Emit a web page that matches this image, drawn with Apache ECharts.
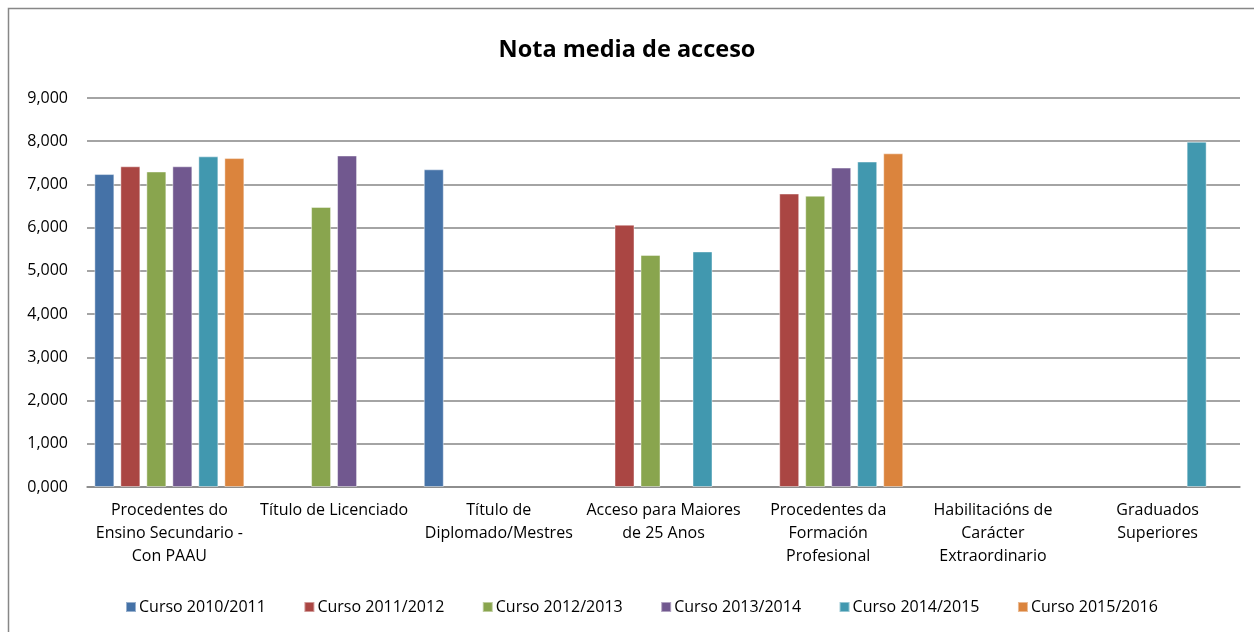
<!DOCTYPE html>
<html>
<head>
<meta charset="utf-8">
<script src="https://cdn.jsdelivr.net/npm/echarts@6/dist/echarts.min.js"></script>
<style>
  html, body { margin: 0; padding: 0; background: #fff; }
  #main { width: 1254px; height: 632px; }
</style>
</head>
<body>
<div id="main"></div>
<script>
var categories = [
  "Procedentes do\nEnsino Secundario -\nCon PAAU",
  "Título de Licenciado",
  "Título de\nDiplomado/Mestres",
  "Acceso para Maiores\nde 25 Anos",
  "Procedentes da\nFormación\nProfesional",
  "Habilitacións de\nCarácter\nExtraordinario",
  "Graduados\nSuperiores"
];
var seriesNames = [
  "Curso 2010/2011", "Curso 2011/2012", "Curso 2012/2013",
  "Curso 2013/2014", "Curso 2014/2015", "Curso 2015/2016"
];
var curso2010 = [7.24, null, 7.35, null, null, null, null];
var curso2011 = [7.42, null, null, 6.07, 6.79, null, null];
var curso2012 = [7.30, 6.48, null, 5.37, 6.74, null, null];
var curso2013 = [7.42, 7.67, null, null, 7.39, null, null];
var curso2014 = [7.65, null, null, 5.45, 7.53, null, 7.99];
var curso2015 = [7.61, null, null, null, 7.72, null, null];
var colors = ["#4572A7", "#AA4643", "#89A54E", "#71588F", "#4198AF", "#DB843D"];

var allValues = [curso2010, curso2011, curso2012, curso2013, curso2014, curso2015];
var font = "'Open Sans', Lato, sans-serif";

let chartMain = echarts.init(document.getElementById("main"));
let series = seriesNames.map(function (name, i) {
  return {
    name: name,
    type: "bar",
    data: allValues[i],
    barWidth: 20,
    barGap: "30%",
    itemStyle: {
      color: colors[i],
      borderColor: "rgba(255,255,255,0.45)",
      borderWidth: 1,
    },
  };
});

let option = {
  animation: false,
  title: {
    text: "Nota media de acceso",
    left: "center",
    top: 33,
    textStyle: { fontFamily: font, fontSize: 23.5, fontWeight: "bold", color: "#000" },
  },
  graphic: [
    {
      type: "rect",
      shape: { x: 8.5, y: 8.5, width: 1260, height: 640 },
      style: { fill: "none", stroke: "#878787", lineWidth: 1.5 },
      silent: true,
    },
  ],
  legend: {
    top: 594,
    left: 120,
    itemWidth: 10,
    itemHeight: 10,
    itemGap: 37.5,
    icon: "rect",
    textStyle: { fontFamily: font, fontSize: 16, color: "#000", padding: [0, 0, 0, -2] },
    data: seriesNames,
  },
  grid: {
    left: 87,
    right: 14,
    top: 98,
    bottom: 145,
  },
  xAxis: {
    type: "category",
    data: categories,
    axisTick: { show: false },
    axisLine: { lineStyle: { color: "#868686", width: 1.5 } },
    axisLabel: {
      interval: 0,
      color: "#000",
      fontFamily: font,
      fontSize: 16,
      lineHeight: 23,
      margin: 12,
    },
  },
  yAxis: {
    type: "value",
    min: 0,
    max: 9,
    interval: 1,
    axisLine: { show: false },
    axisTick: { show: false },
    splitLine: { lineStyle: { color: "#868686", width: 1.5 } },
    axisLabel: {
      color: "#000",
      fontFamily: font,
      fontSize: 16,
      margin: 19,
      formatter: function (v) {
        return v.toFixed(3).replace(".", ",");
      },
    },
  },
  series: series,
};
chartMain && chartMain.setOption(option);
</script>
</body>
</html>
